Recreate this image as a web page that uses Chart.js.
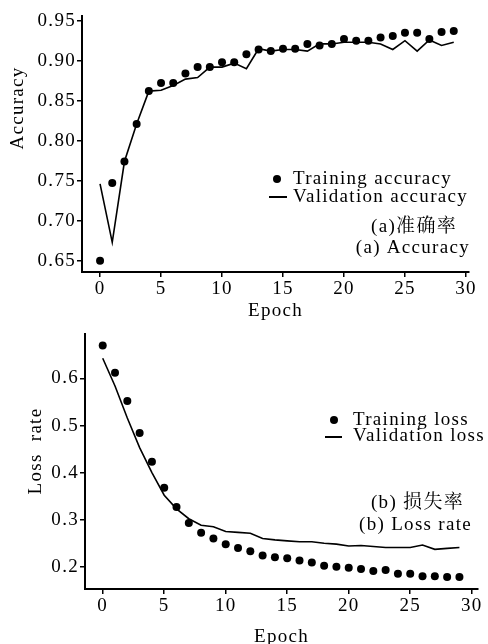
<!DOCTYPE html>
<html>
<head>
<meta charset="utf-8">
<script src="https://cdn.jsdelivr.net/npm/chart.js@4.4.0/dist/chart.umd.min.js"></script>
<style>
    html, body { margin: 0; padding: 0; background: #fff; overflow: hidden; }
    #accChart { position: absolute; left: 0; top: 0; }
    #lossChart { position: absolute; left: 0; top: 322px; }
</style>
</head>
<body>
<canvas id="accChart" width="488" height="322"></canvas>
<canvas id="lossChart" width="488" height="326"></canvas>
<script>
const epochs = [0, 1, 2, 3, 4, 5, 6, 7, 8, 9, 10, 11, 12, 13, 14, 15, 16, 17, 18, 19, 20, 21, 22, 23, 24, 25, 26, 27, 28, 29]

const trainAcc = [0.650, 0.747, 0.774, 0.821, 0.862, 0.872, 0.872, 0.884, 0.892, 0.892,
    0.898, 0.898, 0.908, 0.914, 0.912, 0.915, 0.915, 0.921, 0.919, 0.921,
    0.927, 0.925, 0.925, 0.929, 0.931, 0.935, 0.935, 0.927, 0.936, 0.937]
const valAcc = [0.746, 0.673, 0.774, 0.821, 0.862, 0.863, 0.869, 0.877, 0.879, 0.892,
    0.892, 0.897, 0.890, 0.915, 0.912, 0.914, 0.914, 0.912, 0.921, 0.921,
    0.923, 0.923, 0.923, 0.921, 0.914, 0.925, 0.912, 0.926, 0.919, 0.923]

const trainLoss = [0.670, 0.612, 0.552, 0.484, 0.423, 0.368, 0.327, 0.293, 0.272, 0.260,
    0.248, 0.240, 0.233, 0.224, 0.220, 0.218, 0.213, 0.209, 0.202, 0.200,
    0.198, 0.195, 0.191, 0.193, 0.185, 0.185, 0.180, 0.180, 0.178, 0.178]
const valLoss = [0.643, 0.584, 0.516, 0.453, 0.400, 0.352, 0.323, 0.302, 0.288, 0.285,
    0.275, 0.273, 0.271, 0.260, 0.257, 0.255, 0.253, 0.253, 0.250, 0.248,
    0.244, 0.245, 0.243, 0.241, 0.241, 0.241, 0.246, 0.237, 0.239, 0.241]

const serif = '"Liberation Serif", "Times New Roman", serif'
const cjk = '"Liberation Serif", "Noto Serif CJK SC", "Noto Sans CJK SC", serif'
const fontSize = 19
const spacing = '1.3px'

const toPoints = (xs, ys) => xs.map((x, i) => ({ x: x, y: ys[i] }))

// canvas letter spacing is reset whenever chart.js resizes the canvas
const letterSpacing = {
    id: 'letterSpacing',
    beforeLayout(chart) { chart.ctx.letterSpacing = spacing },
    beforeDraw(chart) { chart.ctx.letterSpacing = spacing }
}

// legend + caption + rotated y title, drawn on top
function notes(cfg) {
    return {
        id: 'notes',
        afterDraw(chart) {
            const ctx = chart.ctx
            ctx.save()
            ctx.letterSpacing = spacing
            ctx.fillStyle = '#000'
            ctx.strokeStyle = '#000'
            ctx.textBaseline = 'middle'

            // y title
            ctx.save()
            ctx.translate(cfg.yTitle.x, cfg.yTitle.y)
            ctx.rotate(-Math.PI / 2)
            ctx.textAlign = 'center'
            ctx.font = fontSize + 'px ' + serif
            ctx.fillText(cfg.yTitle.text, 0, 0)
            ctx.restore()

            // legend
            ctx.beginPath()
            ctx.arc(cfg.dot.x, cfg.dot.y, 4, 0, Math.PI * 2)
            ctx.fill()
            ctx.lineWidth = 2
            ctx.beginPath()
            ctx.moveTo(cfg.dash.x1, cfg.dash.y)
            ctx.lineTo(cfg.dash.x2, cfg.dash.y)
            ctx.stroke()

            ctx.font = fontSize + 'px ' + serif
            ctx.textAlign = 'left'
            cfg.legend.forEach(t => ctx.fillText(t.text, t.x, t.y))

            ctx.textAlign = 'right'
            cfg.captions.forEach(t => {
                ctx.font = fontSize + 'px ' + (t.cjk ? cjk : serif)
                ctx.fillText(t.text, t.x, t.y)
            })
            ctx.restore()
        }
    }
}

function axisOpts(min, max, step, digits, size) {
    return {
        type: 'linear',
        min: min,
        max: max,
        afterFit: size,
        border: { display: true, color: '#000', width: 2 },
        grid: { drawOnChartArea: false, drawTicks: true, tickLength: 5, color: '#000', lineWidth: 1.5 },
        ticks: {
            stepSize: step,
            includeBounds: false,
            padding: 1,
            color: '#000',
            font: { family: serif, size: fontSize },
            callback: v => v.toFixed(digits)
        }
    }
}

function makeChart(id, train, val, xRange, yRange, yStep, yDigits, yWidth, xHeight, pad, notesCfg) {
    const xAxis = axisOpts(xRange[0], xRange[1], 5, 0, s => { s.height = xHeight })
    xAxis.title = {
        display: true,
        text: 'Epoch',
        color: '#000',
        padding: 0,
        font: { family: serif, size: fontSize }
    }
    const yAxis = axisOpts(yRange[0], yRange[1], yStep, yDigits, s => { s.width = yWidth })

    return new Chart(document.getElementById(id).getContext('2d'), {
        type: 'scatter',
        data: {
            datasets: [{
                label: 'train',
                data: toPoints(epochs, train),
                showLine: false,
                pointRadius: 4,
                pointBackgroundColor: '#000',
                pointBorderWidth: 0
            }, {
                label: 'val',
                data: toPoints(epochs, val),
                showLine: true,
                borderColor: '#000',
                borderWidth: 1.6,
                pointRadius: 0,
                tension: 0
            }]
        },
        options: {
            responsive: false,
            animation: false,
            layout: { padding: pad },
            plugins: {
                legend: { display: false },
                tooltip: { enabled: false }
            },
            scales: { x: xAxis, y: yAxis }
        },
        plugins: [letterSpacing, notes(notesCfg)]
    })
}

const accChart = makeChart('accChart', trainAcc, valAcc,
    [-1.48, 30.25], [0.6359, 0.9559], 0.05, 2, 82, 50,
    { top: 16, right: 19, left: 0, bottom: 0 },
    {
        yTitle: { text: 'Accuracy', x: 18, y: 108 },
        dot: { x: 277, y: 179 },
        dash: { x1: 269, x2: 287, y: 197 },
        legend: [
            { text: 'Training accuracy', x: 293, y: 179 },
            { text: 'Validation accuracy', x: 293, y: 197 }
        ],
        captions: [
            { text: '(a)准确率', x: 457, y: 227, cjk: true },
            { text: '(a) Accuracy', x: 470, y: 248 }
        ]
    })

const lossChart = makeChart('lossChart', trainLoss, valLoss,
    [-1.44, 30.51], [0.1527, 0.6936], 0.1, 1, 85, 59,
    { top: 11, right: 10, left: 0, bottom: 0 },
    {
        yTitle: { text: 'Loss  rate', x: 36, y: 129 },
        dot: { x: 334, y: 98 },
        dash: { x1: 325, x2: 342, y: 115 },
        legend: [
            { text: 'Training loss', x: 353, y: 98 },
            { text: 'Validation loss', x: 353, y: 114 }
        ],
        captions: [
            { text: '(b) 损失率', x: 464, y: 181, cjk: true },
            { text: '(b) Loss rate', x: 472, y: 203 }
        ]
    })
</script>
</body>
</html>
